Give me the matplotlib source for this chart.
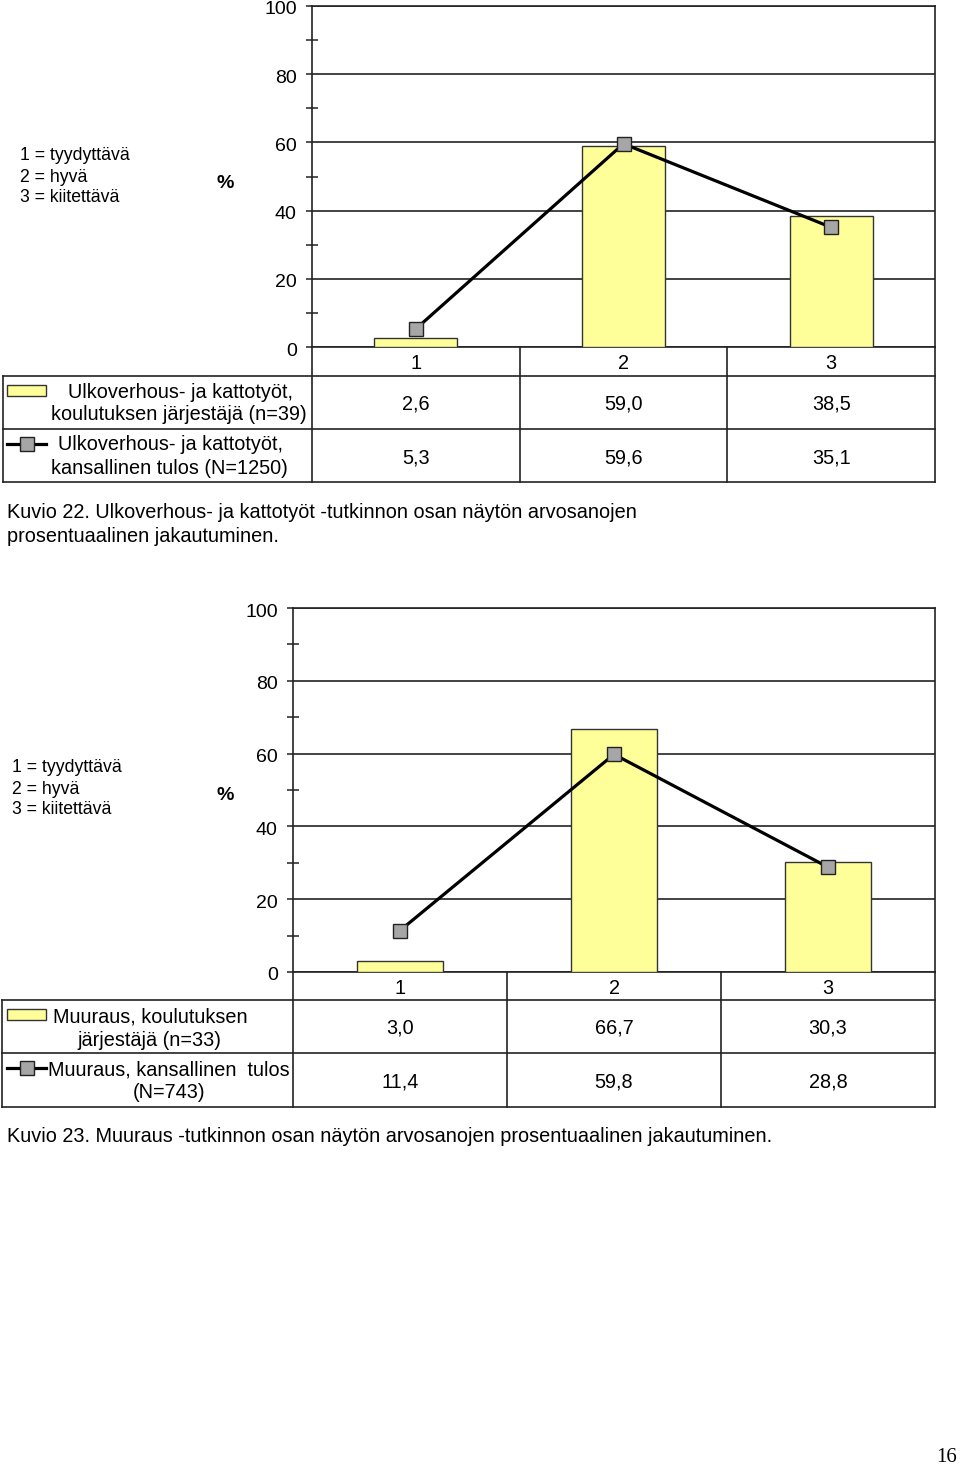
import matplotlib
matplotlib.use("Agg")
import matplotlib.pyplot as plt
from matplotlib.transforms import blended_transform_factory, ScaledTranslation
from matplotlib.patches import Rectangle
from matplotlib.lines import Line2D

plt.rcParams['font.family'] = ['Liberation Sans', 'DejaVu Sans']

# data
categories = ['1', '2', '3']
ulko_jarj = [2.6, 59.0, 38.5]
ulko_kans = [5.3, 59.6, 35.1]
muur_jarj = [3.0, 66.7, 30.3]
muur_kans = [11.4, 59.8, 28.8]
grade_text = ['1 = tyydyttävä', '2 = hyvä', '3 = kiitettävä']
yticks = [0, 20, 40, 60, 80, 100]

W, H = 960, 1466
fig = plt.figure(figsize=(W / 100, H / 100), dpi=100)

# overlay axes in pixel coordinates for table lines and text
pix = fig.add_axes([0, 0, 1, 1])
pix.set_xlim(0, W)
pix.set_ylim(H, 0)
pix.axis('off')

LC = '#222222'
BAR = '#ffff99'
MARK = '#a6a6a6'
FS = 14.3


def fmt(v):
    return f"{v:.1f}".replace('.', ',')


def chart(left, right, top, bottom, rows, bars, line, leg_rows, grade_xy, tabx0):
    ax = fig.add_axes([left / W, (H - bottom) / H, (right - left) / W, (bottom - top) / H])
    x = range(len(categories))
    ax.bar(x, bars, width=0.4, color=BAR, edgecolor='#333333', linewidth=1.0, zorder=3)
    ax.plot(x, line, color='black', lw=2.3, marker='s', ms=9.5, mfc=MARK, mec='#222222',
            mew=1.0, zorder=4)
    ax.set_xlim(-0.5, 2.5)
    ax.set_ylim(0, 100)
    ax.set_xticks([])
    ax.set_yticks(yticks)
    ax.set_yticks([10, 30, 50, 70, 90], minor=True)
    ax.tick_params(axis='y', which='major', length=4, width=1.1, color=LC, labelsize=14, pad=7)
    ax.tick_params(axis='y', which='minor', direction='inout', length=8, width=1.1, color=LC)
    off = ScaledTranslation(0, -2 / 100, fig.dpi_scale_trans)
    for lab in ax.get_yticklabels():
        lab.set_transform(lab.get_transform() + off)
    ax.yaxis.grid(True, color=LC, lw=1.2, zorder=0)
    ax.set_axisbelow(True)
    for s in ax.spines.values():
        s.set_color(LC)
        s.set_linewidth(1.2)
    ax.patch.set_alpha(0)

    # table: x in category units, y in pixels
    tr = blended_transform_factory(ax.transData, pix.transData)
    r0, r1, r2, r3 = rows
    for yy in (r1, r2, r3):
        pix.plot([tabx0, right], [yy, yy], color=LC, lw=1.2)
    pix.plot([tabx0, tabx0], [r1, r3], color=LC, lw=1.2)
    pix.plot([left, left], [r0, r3], color=LC, lw=1.2)
    pix.plot([right, right], [r0, r3], color=LC, lw=1.2)
    for d in (0.5, 1.5):
        pix.plot([d, d], [r0, r3], color=LC, lw=1.2, transform=tr)
    for i, c in enumerate(categories):
        pix.text(i, (r0 + r1) / 2 + 2, c, transform=tr, ha='center', va='center', fontsize=FS)
        pix.text(i, (r1 + r2) / 2 + 2, fmt(bars[i]), transform=tr, ha='center', va='center',
                 fontsize=FS)
        pix.text(i, (r2 + r3) / 2 + 2, fmt(line[i]), transform=tr, ha='center', va='center',
                 fontsize=FS)

    # legend keys
    ky1 = (r1 + r2) / 2 - 12
    pix.add_patch(Rectangle((7, ky1 - 5.5), 39, 11, facecolor=BAR, edgecolor='#333333', lw=1.0))
    ky2 = (r2 + r3) / 2 - 12
    pix.add_line(Line2D([7, 46], [ky2, ky2], color='black', lw=2.3))
    pix.plot([27], [ky2], marker='s', ms=9.5, mfc=MARK, mec='#222222', mew=1.0)
    for (tx, ty, s) in leg_rows:
        pix.text(tx, ty, s, ha='center', va='center', fontsize=FS)

    gx, gy = grade_xy
    for k, s in enumerate(grade_text):
        pix.text(gx, gy + 21 * k, s, ha='left', va='center', fontsize=12.7)
    pix.text(225, gy + 28, '%', ha='center', va='center', fontsize=14, fontweight='bold')


chart(312, 935, 6, 347, (347, 376, 429, 482), ulko_jarj, ulko_kans,
      [(181, 393, 'Ulkoverhous- ja kattotyöt,'),
       (179, 415, 'koulutuksen järjestäjä (n=39)'),
       (170, 445, 'Ulkoverhous- ja kattotyöt,'),
       (169, 468, 'kansallinen tulos (N=1250)')],
      (20, 156), 3)

chart(293, 935, 608, 972, (972, 1000, 1053, 1107), muur_jarj, muur_kans,
      [(150, 1017, 'Muuraus, koulutuksen'),
       (149, 1040, 'järjestäjä (n=33)'),
       (169, 1070, 'Muuraus, kansallinen  tulos'),
       (169, 1092, '(N=743)')],
      (12, 768), 2)

pix.text(7, 513, 'Kuvio 22. Ulkoverhous- ja kattotyöt -tutkinnon osan näytön arvosanojen',
         ha='left', va='center', fontsize=FS)
pix.text(7, 536, 'prosentuaalinen jakautuminen.', ha='left', va='center', fontsize=FS)
pix.text(7, 1136, 'Kuvio 23. Muuraus -tutkinnon osan näytön arvosanojen prosentuaalinen jakautuminen.',
         ha='left', va='center', fontsize=FS)
pix.text(957, 1457, '16', ha='right', va='center', fontsize=15, family='Liberation Serif')

fig.savefig('out.png', dpi=100)
